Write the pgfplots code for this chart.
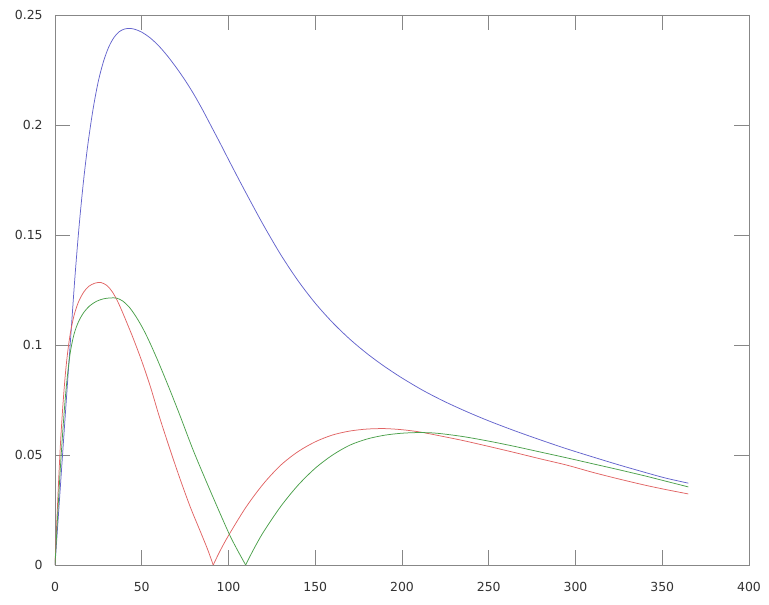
\documentclass[border=0pt]{standalone}
\usepackage{fontspec}
\setmainfont{DejaVu Sans}
\usepackage{pgfplots}
\pgfplotsset{compat=1.18}
\definecolor{cblue}{RGB}{100,100,205}
\definecolor{cred}{RGB}{225,100,100}
\definecolor{cgreen}{RGB}{75,160,75}
\definecolor{caxis}{RGB}{135,135,135}
\begin{document}
\fontsize{12.5}{15}\selectfont
\begin{tikzpicture}
\useasboundingbox (-55bp,-40bp) rectangle (714bp,565bp);
\begin{axis}[
  at={(0,0)}, anchor=south west,
  scale only axis, width=694bp, height=550bp,
  xmin=0, xmax=400, ymin=0, ymax=0.25,
  xtick={0,50,...,400},
  ytick={0,0.05,0.1,0.15,0.2,0.25},
  yticklabels={0,0.05,0.1,0.15,0.2,0.25},
  /pgf/number format/assume math mode=true,
  tick align=inside, major tick length=15bp,
  tick style={caxis, line width=0.8bp},
  axis line style={caxis, line width=0.8bp},
  xticklabel style={yshift=-13bp, text=black!80},
  yticklabel style={xshift=-8bp, text=black!80},
  ticklabel style={font=\fontsize{12.5}{15}\selectfont},
  every axis plot/.append style={line width=0.75bp, mark=none},
  clip=true,
]
\addplot[cblue, smooth] coordinates {
(0,0) (3,0.0345) (6,0.069) (9,0.103) (11.5,0.131) (14,0.155) (16.5,0.175) (19,0.1915) (22,0.2075) (25,0.2200) (28,0.2290) (31,0.2355) (34,0.2398) (37,0.2424) (40,0.2436) (43,0.2439) (46,0.2435) (50,0.2422) (55,0.2395) (60,0.2358) (65,0.2312) (70,0.2260) (75,0.2203) (80,0.2140) (85,0.2070) (90,0.1995) (95,0.1920) (100,0.1843) (106,0.1752) (112,0.1663) (120,0.1547) (130,0.1412) (140,0.1293) (150,0.1190) (160,0.1102) (170,0.1026) (180,0.0960) (190,0.0902) (200,0.0850) (212,0.0794) (224,0.0745) (237,0.0698) (250,0.0655) (265,0.0610) (280,0.0568) (295,0.0528) (310,0.0491) (325,0.0455) (340,0.0421) (352,0.0395) (365,0.0372)
};
\addplot[cred, smooth] coordinates {
(0,0) (1.5,0.028) (3,0.053) (4.5,0.072) (6,0.087) (7.5,0.098) (9,0.106) (11,0.1135) (13.5,0.1195) (16.5,0.1240) (19.5,0.1267) (23,0.1281) (26.5,0.1284) (30,0.1270) (33,0.1242) (36,0.1200) (39,0.1147) (42,0.1090) (45,0.1032) (50,0.0927) (55,0.0810) (60,0.0678) (66,0.0532) (72,0.0393) (78,0.0263) (84,0.0148) (88,0.0070) (91.2,0)
};
\addplot[cred, smooth] coordinates {
(91.2,0) (95,0.0062) (100,0.0134) (110,0.0262) (120,0.0368) (130,0.0453) (140,0.0515) (150,0.0560) (160,0.0591) (170,0.0609) (180,0.0618) (190,0.0620) (200,0.0615) (210,0.0605) (220,0.0590) (235,0.0566) (250,0.0539) (265,0.0511) (280,0.0482) (295,0.0454) (310,0.0421) (325,0.0391) (340,0.0363) (352,0.0343) (365,0.0323)
};
\addplot[cgreen, smooth] coordinates {
(0,0) (1.5,0.022) (3,0.043) (4.5,0.061) (6,0.0765) (7.5,0.0885) (9,0.0975) (11,0.1050) (13.5,0.1105) (16.5,0.1147) (20,0.1178) (24,0.1199) (28,0.1210) (32,0.1214) (35.5,0.1213) (39,0.1200) (43,0.1170) (47,0.1125) (51,0.1070) (55,0.1005) (60,0.0915) (66,0.0800) (72,0.0680) (80,0.0515) (90,0.0328) (100,0.0148) (105,0.0070) (109.9,0)
};
\addplot[cgreen, smooth] coordinates {
(109.9,0) (114,0.0064) (120,0.0148) (130,0.0265) (140,0.0362) (150,0.0440) (160,0.0500) (170,0.0545) (180,0.0573) (190,0.0590) (200,0.0599) (210,0.0602) (220,0.0599) (235,0.0584) (250,0.0563) (265,0.0539) (280,0.0513) (295,0.0487) (310,0.0460) (325,0.0433) (340,0.0405) (352,0.0381) (365,0.0355)
};
\end{axis}
\end{tikzpicture}
\end{document}
